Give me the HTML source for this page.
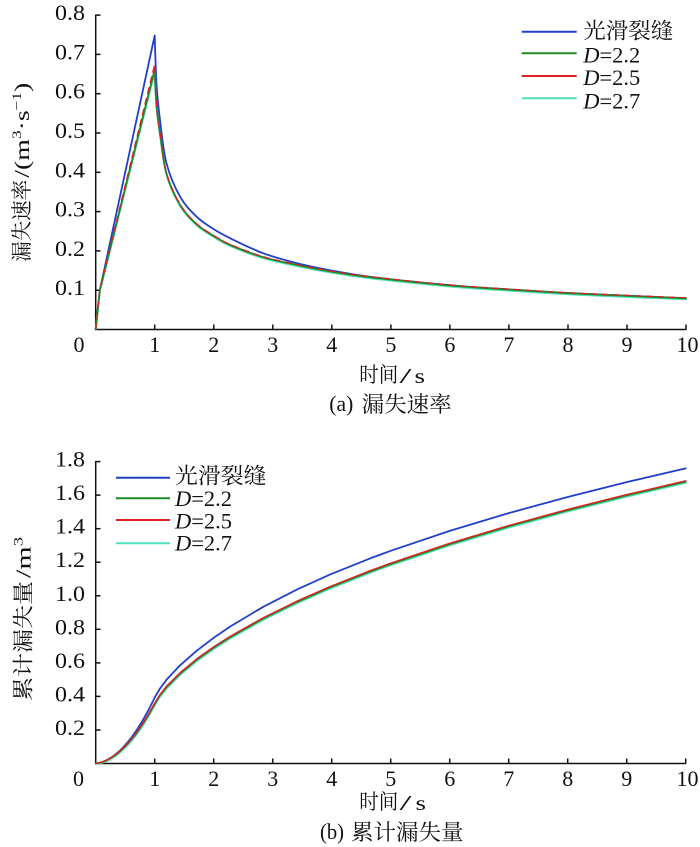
<!DOCTYPE html>
<html>
<head>
<meta charset="utf-8">
<style>
  html, body { margin: 0; padding: 0; background: #fff; }
  svg { display: block; }
  .t { font-family: "Liberation Serif", "Noto Serif CJK SC", serif; fill: #111; }
  .c { font-family: "Liberation Serif", "Noto Serif CJK SC", "Noto Sans CJK SC", serif; fill: #111; }
</style>
</head>
<body>
<svg width="700" height="847" viewBox="0 0 700 847" xmlns="http://www.w3.org/2000/svg">
  <rect x="0" y="0" width="700" height="847" fill="#fff"/>

  <!-- ================= TOP CHART ================= -->
  <g stroke="#111" stroke-width="1.5" fill="none">
    <line x1="95.7" y1="14.5" x2="95.7" y2="330.2"/>
    <line x1="95" y1="329.5" x2="686.5" y2="329.5"/>
    <line x1="95.7" y1="290.2" x2="100.5" y2="290.2"/>
    <line x1="95.7" y1="250.9" x2="100.5" y2="250.9"/>
    <line x1="95.7" y1="211.6" x2="100.5" y2="211.6"/>
    <line x1="95.7" y1="172.3" x2="100.5" y2="172.3"/>
    <line x1="95.7" y1="133.0" x2="100.5" y2="133.0"/>
    <line x1="95.7" y1="93.7" x2="100.5" y2="93.7"/>
    <line x1="95.7" y1="54.4" x2="100.5" y2="54.4"/>
    <line x1="95.7" y1="15.1" x2="100.5" y2="15.1"/>
    <line x1="154.7" y1="329.5" x2="154.7" y2="324.5"/>
    <line x1="213.8" y1="329.5" x2="213.8" y2="324.5"/>
    <line x1="272.8" y1="329.5" x2="272.8" y2="324.5"/>
    <line x1="331.8" y1="329.5" x2="331.8" y2="324.5"/>
    <line x1="390.9" y1="329.5" x2="390.9" y2="324.5"/>
    <line x1="449.9" y1="329.5" x2="449.9" y2="324.5"/>
    <line x1="508.9" y1="329.5" x2="508.9" y2="324.5"/>
    <line x1="568.0" y1="329.5" x2="568.0" y2="324.5"/>
    <line x1="627.0" y1="329.5" x2="627.0" y2="324.5"/>
    <line x1="686.0" y1="329.5" x2="686.0" y2="324.5"/>
  </g>

  <g class="t" font-size="22">
    <text x="55" y="20.1" textLength="30" lengthAdjust="spacingAndGlyphs">0.8</text>
    <text x="55" y="59.4" textLength="30" lengthAdjust="spacingAndGlyphs">0.7</text>
    <text x="55" y="98.7" textLength="30" lengthAdjust="spacingAndGlyphs">0.6</text>
    <text x="55" y="138.0" textLength="30" lengthAdjust="spacingAndGlyphs">0.5</text>
    <text x="55" y="177.3" textLength="30" lengthAdjust="spacingAndGlyphs">0.4</text>
    <text x="55" y="216.6" textLength="30" lengthAdjust="spacingAndGlyphs">0.3</text>
    <text x="55" y="255.9" textLength="30" lengthAdjust="spacingAndGlyphs">0.2</text>
    <text x="55" y="295.2" textLength="30" lengthAdjust="spacingAndGlyphs">0.1</text>
  </g>
  <g class="t" font-size="22" text-anchor="middle">
    <text x="79" y="352">0</text>
    <text x="154.7" y="352">1</text>
    <text x="213.8" y="352">2</text>
    <text x="272.8" y="352">3</text>
    <text x="331.8" y="352">4</text>
    <text x="390.9" y="352">5</text>
    <text x="449.9" y="352">6</text>
    <text x="508.9" y="352">7</text>
    <text x="568.0" y="352">8</text>
    <text x="627.0" y="352">9</text>
    <text x="687.5" y="352">10</text>
  </g>

  <g transform="translate(29,261.7) rotate(-90)">
    <text class="c" x="0" y="0" font-size="21" textLength="82" lengthAdjust="spacingAndGlyphs">漏失速率</text>
    <text class="t" x="84" y="0" font-size="21" textLength="95" lengthAdjust="spacingAndGlyphs">/(m<tspan font-size="13" dy="-8">3</tspan><tspan dy="8">·s</tspan><tspan font-size="13" dy="-8">−1</tspan><tspan dy="8">)</tspan></text>
  </g>

  <text class="c" x="359.3" y="382" font-size="21" textLength="39" lengthAdjust="spacingAndGlyphs">时间</text>
  <text class="t" x="399.5" y="383" font-size="21" textLength="12" lengthAdjust="spacingAndGlyphs">/</text>
  <text class="t" x="414.5" y="383" font-size="21" textLength="10.5" lengthAdjust="spacingAndGlyphs">s</text>
  <text class="t" x="329.3" y="411" font-size="22" textLength="24" lengthAdjust="spacingAndGlyphs">(a)</text>
  <text class="c" x="361.7" y="412" font-size="22" textLength="90" lengthAdjust="spacingAndGlyphs">漏失速率</text>

  <!-- top curves -->
  <g fill="none" stroke-linejoin="round" stroke-linecap="round">
    <path stroke="#2040c8" stroke-width="1.8" d="M95.7,329.5 L99.8,290.2 L154.7,35.5 C155.0,43.55 155.62,69.72 156.5,83.8 C157.38,97.88 158.33,106.75 160,120 C161.67,133.25 163.15,150.52 166.5,163.3 C169.85,176.08 175.08,187.8 180.1,196.7 C185.12,205.6 190.98,211.27 196.6,216.7 C202.22,222.13 208.18,225.7 213.8,229.3 C219.42,232.9 222.05,234.3 230.3,238.3 C238.55,242.3 252.18,249.15 263.3,253.3 C274.42,257.45 285.88,260.38 297,263.2 C308.12,266.02 317.8,267.93 330,270.2 C342.2,272.47 350.22,274.32 370.2,276.8 C390.18,279.28 426.78,283 449.9,285.1 C473.02,287.2 489.22,288.08 508.9,289.4 C528.58,290.72 548.32,291.95 568,293 C587.68,294.05 607.33,294.85 627,295.7 C646.67,296.55 676.17,297.7 686,298.1"/>
    <path stroke="#4fe0bf" stroke-width="2" transform="translate(0,1)" d="M95.7,328.5 L99.8,290.2 L154.7,71.1 C155,76.8 155.62,94.82 156.5,105.5 C157.38,116.18 158.33,122.07 160,133.4 C161.67,144.73 163.15,161.58 166.5,173.5 C169.85,185.42 175.08,196.45 180.1,204.9 C185.12,213.35 190.98,219.02 196.6,224.2 C202.22,229.38 208.18,232.53 213.8,236 C219.42,239.47 222.05,241.47 230.3,245 C238.55,248.53 252.18,253.87 263.3,257.2 C274.42,260.53 285.88,262.65 297,265 C308.12,267.35 317.8,269.27 330,271.3 C342.2,273.33 350.22,274.83 370.2,277.2 C390.18,279.57 426.78,283.43 449.9,285.5 C473.02,287.57 489.22,288.32 508.9,289.6 C528.58,290.88 548.32,292.15 568,293.2 C587.68,294.25 607.33,295.05 627,295.9 C646.67,296.75 676.17,297.9 686,298.3"/>
    <path stroke="#1f8a22" stroke-width="1.8" d="M95.7,329.5 L99.8,290.2 L154.7,69.3 C155,75.33 155.62,94.82 156.5,105.5 C157.38,116.18 158.33,122.07 160,133.4 C161.67,144.73 163.15,161.58 166.5,173.5 C169.85,185.42 175.08,196.45 180.1,204.9 C185.12,213.35 190.98,219.02 196.6,224.2 C202.22,229.38 208.18,232.53 213.8,236 C219.42,239.47 222.05,241.47 230.3,245 C238.55,248.53 252.18,253.87 263.3,257.2 C274.42,260.53 285.88,262.65 297,265 C308.12,267.35 317.8,269.27 330,271.3 C342.2,273.33 350.22,274.83 370.2,277.2 C390.18,279.57 426.78,283.43 449.9,285.5 C473.02,287.57 489.22,288.32 508.9,289.6 C528.58,290.88 548.32,292.15 568,293.2 C587.68,294.25 607.33,295.05 627,295.9 C646.67,296.75 676.17,297.9 686,298.3"/>
    <path stroke="#dd2020" stroke-width="1.3" stroke-dasharray="6 5" transform="translate(0,-0.5)" d="M95.7,330 L99.8,290.2 L154.7,64.7 C155,72.5 155.62,94.82 156.5,105.5 C157.38,116.18 158.33,122.07 160,133.4 C161.67,144.73 163.15,161.58 166.5,173.5 C169.85,185.42 175.08,196.45 180.1,204.9 C185.12,213.35 190.98,219.02 196.6,224.2 C202.22,229.38 208.18,232.53 213.8,236 C219.42,239.47 222.05,241.47 230.3,245 C238.55,248.53 252.18,253.87 263.3,257.2 C274.42,260.53 285.88,262.65 297,265 C308.12,267.35 317.8,269.27 330,271.3 C342.2,273.33 350.22,274.83 370.2,277.2 C390.18,279.57 426.78,283.43 449.9,285.5 C473.02,287.57 489.22,288.32 508.9,289.6 C528.58,290.88 548.32,292.15 568,293.2 C587.68,294.25 607.33,295.05 627,295.9 C646.67,296.75 676.17,297.9 686,298.3"/>
  </g>

  <g stroke-width="2">
    <line x1="521.7" y1="31.7" x2="576.7" y2="31.7" stroke="#2040c8"/>
    <line x1="521.7" y1="53.3" x2="576.7" y2="53.3" stroke="#1f8a22"/>
    <line x1="521.7" y1="76" x2="576.7" y2="76" stroke="#dd2020"/>
    <line x1="521.7" y1="98.3" x2="576.7" y2="98.3" stroke="#4fe0bf"/>
  </g>
  <text class="c" x="583.3" y="38.5" font-size="22" textLength="90" lengthAdjust="spacingAndGlyphs">光滑裂缝</text>
  <text class="t" x="583.3" y="62.7" font-size="22" textLength="57" lengthAdjust="spacingAndGlyphs"><tspan font-style="italic">D</tspan>=2.2</text>
  <text class="t" x="583.3" y="85" font-size="22" textLength="57" lengthAdjust="spacingAndGlyphs"><tspan font-style="italic">D</tspan>=2.5</text>
  <text class="t" x="583.3" y="108.3" font-size="22" textLength="57" lengthAdjust="spacingAndGlyphs"><tspan font-style="italic">D</tspan>=2.7</text>

  <!-- ================= BOTTOM CHART ================= -->
  <g stroke="#111" stroke-width="1.5" fill="none">
    <line x1="95.7" y1="461" x2="95.7" y2="764.2"/>
    <line x1="95" y1="763.5" x2="686.2" y2="763.5"/>
    <line x1="95.7" y1="730.0" x2="100.5" y2="730.0"/>
    <line x1="95.7" y1="696.4" x2="100.5" y2="696.4"/>
    <line x1="95.7" y1="662.9" x2="100.5" y2="662.9"/>
    <line x1="95.7" y1="629.3" x2="100.5" y2="629.3"/>
    <line x1="95.7" y1="595.8" x2="100.5" y2="595.8"/>
    <line x1="95.7" y1="562.2" x2="100.5" y2="562.2"/>
    <line x1="95.7" y1="528.7" x2="100.5" y2="528.7"/>
    <line x1="95.7" y1="495.1" x2="100.5" y2="495.1"/>
    <line x1="95.7" y1="461.6" x2="100.5" y2="461.6"/>
    <line x1="154.7" y1="763.5" x2="154.7" y2="758.5"/>
    <line x1="213.7" y1="763.5" x2="213.7" y2="758.5"/>
    <line x1="272.7" y1="763.5" x2="272.7" y2="758.5"/>
    <line x1="331.7" y1="763.5" x2="331.7" y2="758.5"/>
    <line x1="390.7" y1="763.5" x2="390.7" y2="758.5"/>
    <line x1="449.7" y1="763.5" x2="449.7" y2="758.5"/>
    <line x1="508.7" y1="763.5" x2="508.7" y2="758.5"/>
    <line x1="567.7" y1="763.5" x2="567.7" y2="758.5"/>
    <line x1="626.7" y1="763.5" x2="626.7" y2="758.5"/>
    <line x1="685.7" y1="763.5" x2="685.7" y2="758.5"/>
  </g>

  <g class="t" font-size="22">
    <text x="55" y="466.6" textLength="30" lengthAdjust="spacingAndGlyphs">1.8</text>
    <text x="55" y="500.1" textLength="30" lengthAdjust="spacingAndGlyphs">1.6</text>
    <text x="55" y="533.7" textLength="30" lengthAdjust="spacingAndGlyphs">1.4</text>
    <text x="55" y="567.2" textLength="30" lengthAdjust="spacingAndGlyphs">1.2</text>
    <text x="55" y="600.8" textLength="30" lengthAdjust="spacingAndGlyphs">1.0</text>
    <text x="55" y="634.3" textLength="30" lengthAdjust="spacingAndGlyphs">0.8</text>
    <text x="55" y="667.9" textLength="30" lengthAdjust="spacingAndGlyphs">0.6</text>
    <text x="55" y="701.4" textLength="30" lengthAdjust="spacingAndGlyphs">0.4</text>
    <text x="55" y="735.0" textLength="30" lengthAdjust="spacingAndGlyphs">0.2</text>
  </g>
  <g class="t" font-size="22" text-anchor="middle">
    <text x="78.5" y="786">0</text>
    <text x="154.7" y="786">1</text>
    <text x="213.7" y="786">2</text>
    <text x="272.7" y="786">3</text>
    <text x="331.7" y="786">4</text>
    <text x="390.7" y="786">5</text>
    <text x="449.7" y="786">6</text>
    <text x="508.7" y="786">7</text>
    <text x="567.7" y="786">8</text>
    <text x="626.7" y="786">9</text>
    <text x="687.5" y="786">10</text>
  </g>

  <g transform="translate(30.5,701) rotate(-90)">
    <text class="c" x="0" y="0" font-size="21" textLength="120" lengthAdjust="spacingAndGlyphs">累计漏失量</text>
    <text class="t" x="123" y="0" font-size="21" textLength="41" lengthAdjust="spacingAndGlyphs">/m<tspan font-size="13" dy="-8">3</tspan></text>
  </g>

  <text class="c" x="359.3" y="809" font-size="21" textLength="39" lengthAdjust="spacingAndGlyphs">时间</text>
  <text class="t" x="399.5" y="810" font-size="21" textLength="12" lengthAdjust="spacingAndGlyphs">/</text>
  <text class="t" x="415.5" y="810" font-size="21" textLength="10.5" lengthAdjust="spacingAndGlyphs">s</text>
  <text class="t" x="320" y="839" font-size="22" textLength="24" lengthAdjust="spacingAndGlyphs">(b)</text>
  <text class="c" x="351" y="840" font-size="22" textLength="112.5" lengthAdjust="spacingAndGlyphs">累计漏失量</text>

  <g fill="none" stroke-linejoin="round" stroke-linecap="round">
    <path stroke="#2040c8" stroke-width="1.8" d="M95.7,763.5 L101.6,762.4 L107.5,759.8 L113.4,756.1 L119.3,751.2 L125.2,745.1 L131.1,738.0 L137.0,729.6 L142.9,720.1 L148.8,709.5 L154.7,697.6 L160.0,688.5 L166.5,679.8 L180.1,665.3 L196.6,650.8 L213.7,637.8 L230.2,626.5 L263.3,606.8 L296.9,589.6 L329.9,574.6 L370.1,558.4 L390.7,550.8 L449.7,530.9 L508.7,513.1 L567.7,497.0 L626.7,482.1 L685.7,468.4"/>
    <path stroke="#4fe0bf" stroke-width="2" d="M95.7,763.5 L101.6,762.9 L107.5,760.7 L113.4,757.4 L119.3,753.0 L125.2,747.6 L131.1,741.2 L137.0,733.8 L142.9,725.2 L148.8,715.7 L154.7,705.2 L160.0,696.7 L166.5,688.5 L180.1,674.8 L196.6,661.1 L213.7,648.9 L230.2,638.4 L263.3,619.7 L296.9,603.2 L329.9,588.6 L370.1,572.7 L390.7,565.2 L449.7,545.3 L508.7,527.5 L567.7,511.4 L626.7,496.6 L685.7,482.8"/>
    <path stroke="#1f8a22" stroke-width="1.8" d="M95.7,763.5 L101.6,762.4 L107.5,759.9 L113.4,756.4 L119.3,751.9 L125.2,746.4 L131.1,739.9 L137.0,732.4 L142.9,723.8 L148.8,714.3 L154.7,703.8 L160.0,695.3 L166.5,687.1 L180.1,673.5 L196.6,659.8 L213.7,647.6 L230.2,637.1 L263.3,618.5 L296.9,602.0 L329.9,587.4 L370.1,571.5 L390.7,564.0 L449.7,544.1 L508.7,526.3 L567.7,510.2 L626.7,495.4 L685.7,481.6"/>
    <path stroke="#dd2020" stroke-width="1.4" d="M95.7,763.5 L101.6,762.3 L107.5,759.6 L113.4,756.0 L119.3,751.4 L125.2,745.9 L131.1,739.3 L137.0,731.8 L142.9,723.1 L148.8,713.6 L154.7,703.0 L160.0,694.5 L166.5,686.3 L180.1,672.7 L196.6,659.0 L213.7,646.8 L230.2,636.3 L263.3,617.7 L296.9,601.2 L329.9,586.6 L370.1,570.7 L390.7,563.2 L449.7,543.3 L508.7,525.5 L567.7,509.4 L626.7,494.6 L685.7,480.8"/>
  </g>

  <g stroke-width="2">
    <line x1="116" y1="477.7" x2="170" y2="477.7" stroke="#2040c8"/>
    <line x1="116" y1="498.3" x2="170" y2="498.3" stroke="#1f8a22"/>
    <line x1="116" y1="520" x2="170" y2="520" stroke="#dd2020"/>
    <line x1="116" y1="543.3" x2="170" y2="543.3" stroke="#4fe0bf"/>
  </g>
  <text class="c" x="175" y="483.5" font-size="22" textLength="91.5" lengthAdjust="spacingAndGlyphs">光滑裂缝</text>
  <text class="t" x="175" y="506" font-size="22" textLength="57" lengthAdjust="spacingAndGlyphs"><tspan font-style="italic">D</tspan>=2.2</text>
  <text class="t" x="175" y="528.3" font-size="22" textLength="57" lengthAdjust="spacingAndGlyphs"><tspan font-style="italic">D</tspan>=2.5</text>
  <text class="t" x="175" y="550.7" font-size="22" textLength="57" lengthAdjust="spacingAndGlyphs"><tspan font-style="italic">D</tspan>=2.7</text>
</svg>
</body>
</html>
